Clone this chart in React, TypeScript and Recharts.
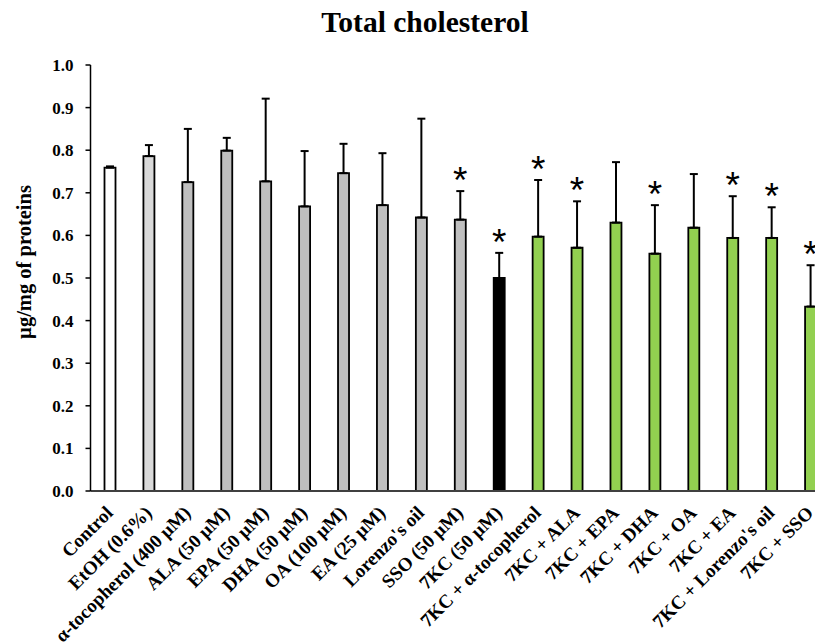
import React from 'react';
import { ComposedChart, Bar, XAxis, YAxis, ErrorBar, Cell, Scatter, Customized } from 'recharts';

const categories = [
  'Control', 'EtOH (0.6%)', 'α-tocopherol (400 µM)', 'ALA (50 µM)', 'EPA (50 µM)', 'DHA (50 µM)',
  'OA (100 µM)', 'EA (25 µM)', "Lorenzo's oil", 'SSO (50 µM)', '7KC (50 µM)', '7KC + α-tocopherol',
  '7KC + ALA', '7KC + EPA', '7KC + DHA', '7KC + OA', '7KC + EA', "7KC + Lorenzo's oil", '7KC + SSO',
];
const means = [0.759, 0.786, 0.725, 0.799, 0.727, 0.668, 0.746, 0.671, 0.642, 0.637, 0.500, 0.597, 0.571, 0.630, 0.557, 0.618, 0.594, 0.594, 0.433];
const sds = [0.003, 0.026, 0.125, 0.030, 0.194, 0.130, 0.069, 0.122, 0.232, 0.067, 0.059, 0.133, 0.109, 0.142, 0.114, 0.126, 0.098, 0.072, 0.097];
const significant = [false, false, false, false, false, false, false, false, false, true, true, true, true, false, true, false, true, true, true];
const groups = ['control', 'vehicle', 'fa', 'fa', 'fa', 'fa', 'fa', 'fa', 'fa', 'fa', 'kc', 'kcfa', 'kcfa', 'kcfa', 'kcfa', 'kcfa', 'kcfa', 'kcfa', 'kcfa'];
const yTicks = [0, 0.1, 0.2, 0.3, 0.4, 0.5, 0.6, 0.7, 0.8, 0.9, 1.0];

const groupColors: Record<string, string> = {
  control: '#ffffff',
  vehicle: '#d9d9d9',
  fa: '#bfbfbf',
  kc: '#000000',
  kcfa: '#92d050',
};

const data = categories.map((name, i) => ({
  name,
  value: means[i],
  err: [0, sds[i]],
  sig: significant[i],
  starAt: means[i] + sds[i],
}));

const FONT = '"Liberation Serif", "Times New Roman", serif';

const XTick = (props: any) => {
  const { x, y, payload } = props;
  const ax = x + 4;
  const ay = y + 15;
  return (
    <text
      x={ax}
      y={ay}
      transform={`rotate(-45 ${ax} ${ay})`}
      textAnchor="end"
      fontFamily={FONT}
      fontWeight="bold"
      fontSize={19}
      fill="#000"
    >
      {payload.value}
    </text>
  );
};

const StarShape = (props: any) => {
  const { cx, cy, payload } = props;
  if (!payload || !payload.sig) return <g />;
  return (
    <text
      x={cx}
      y={cy + 2}
      textAnchor="middle"
      fontFamily='"Liberation Sans", Arial, sans-serif'
      fontSize={37}
      fill="#000"
    >
      *
    </text>
  );
};

const Texts = () => (
  <g>
    <text x={425} y={32} textAnchor="middle" fontFamily={FONT} fontWeight="bold" fontSize={29.5} fill="#000">
      Total cholesterol
    </text>
    <text
      x={31}
      y={262}
      transform="rotate(-90 31 262)"
      textAnchor="middle"
      fontFamily={FONT}
      fontWeight="bold"
      fontSize={20.5}
      fill="#000"
    >
      µg/mg of proteins
    </text>
  </g>
);

export default function App() {
  return (
    <div style={{ width: 823, height: 643, overflow: 'hidden', marginTop: -8, marginLeft: -8 }}>
      <ComposedChart
        width={848}
        height={643}
        data={data}
        margin={{ top: 65, right: 18, left: 0, bottom: 0 }}
      >
        <Customized component={Texts} />
        <XAxis
          dataKey="name"
          interval={0}
          height={152}
          tickLine={false}
          axisLine={{ stroke: '#404040', strokeWidth: 2 }}
          tick={<XTick />}
        />
        <YAxis
          width={90.5}
          domain={[0, 1]}
          ticks={yTicks}
          interval={0}
          tickFormatter={(v: number) => v.toFixed(1)}
          axisLine={{ stroke: '#000', strokeWidth: 1.5 }}
          tickLine={{ stroke: '#000', strokeWidth: 1.5 }}
          tickSize={5}
          tickMargin={12}
          tick={{ fontFamily: FONT, fontWeight: 'bold', fontSize: 17, fill: '#000' }}
        />
        <Bar dataKey="value" barSize={11} stroke="#000" strokeWidth={1.8} isAnimationActive={false}>
          {data.map((d, i) => (
            <Cell key={i} fill={groupColors[groups[i]]} />
          ))}
          <ErrorBar dataKey="err" direction="y" width={4} stroke="#000" strokeWidth={2} />
        </Bar>
        <Scatter dataKey="starAt" shape={<StarShape />} isAnimationActive={false} />
      </ComposedChart>
    </div>
  );
}
